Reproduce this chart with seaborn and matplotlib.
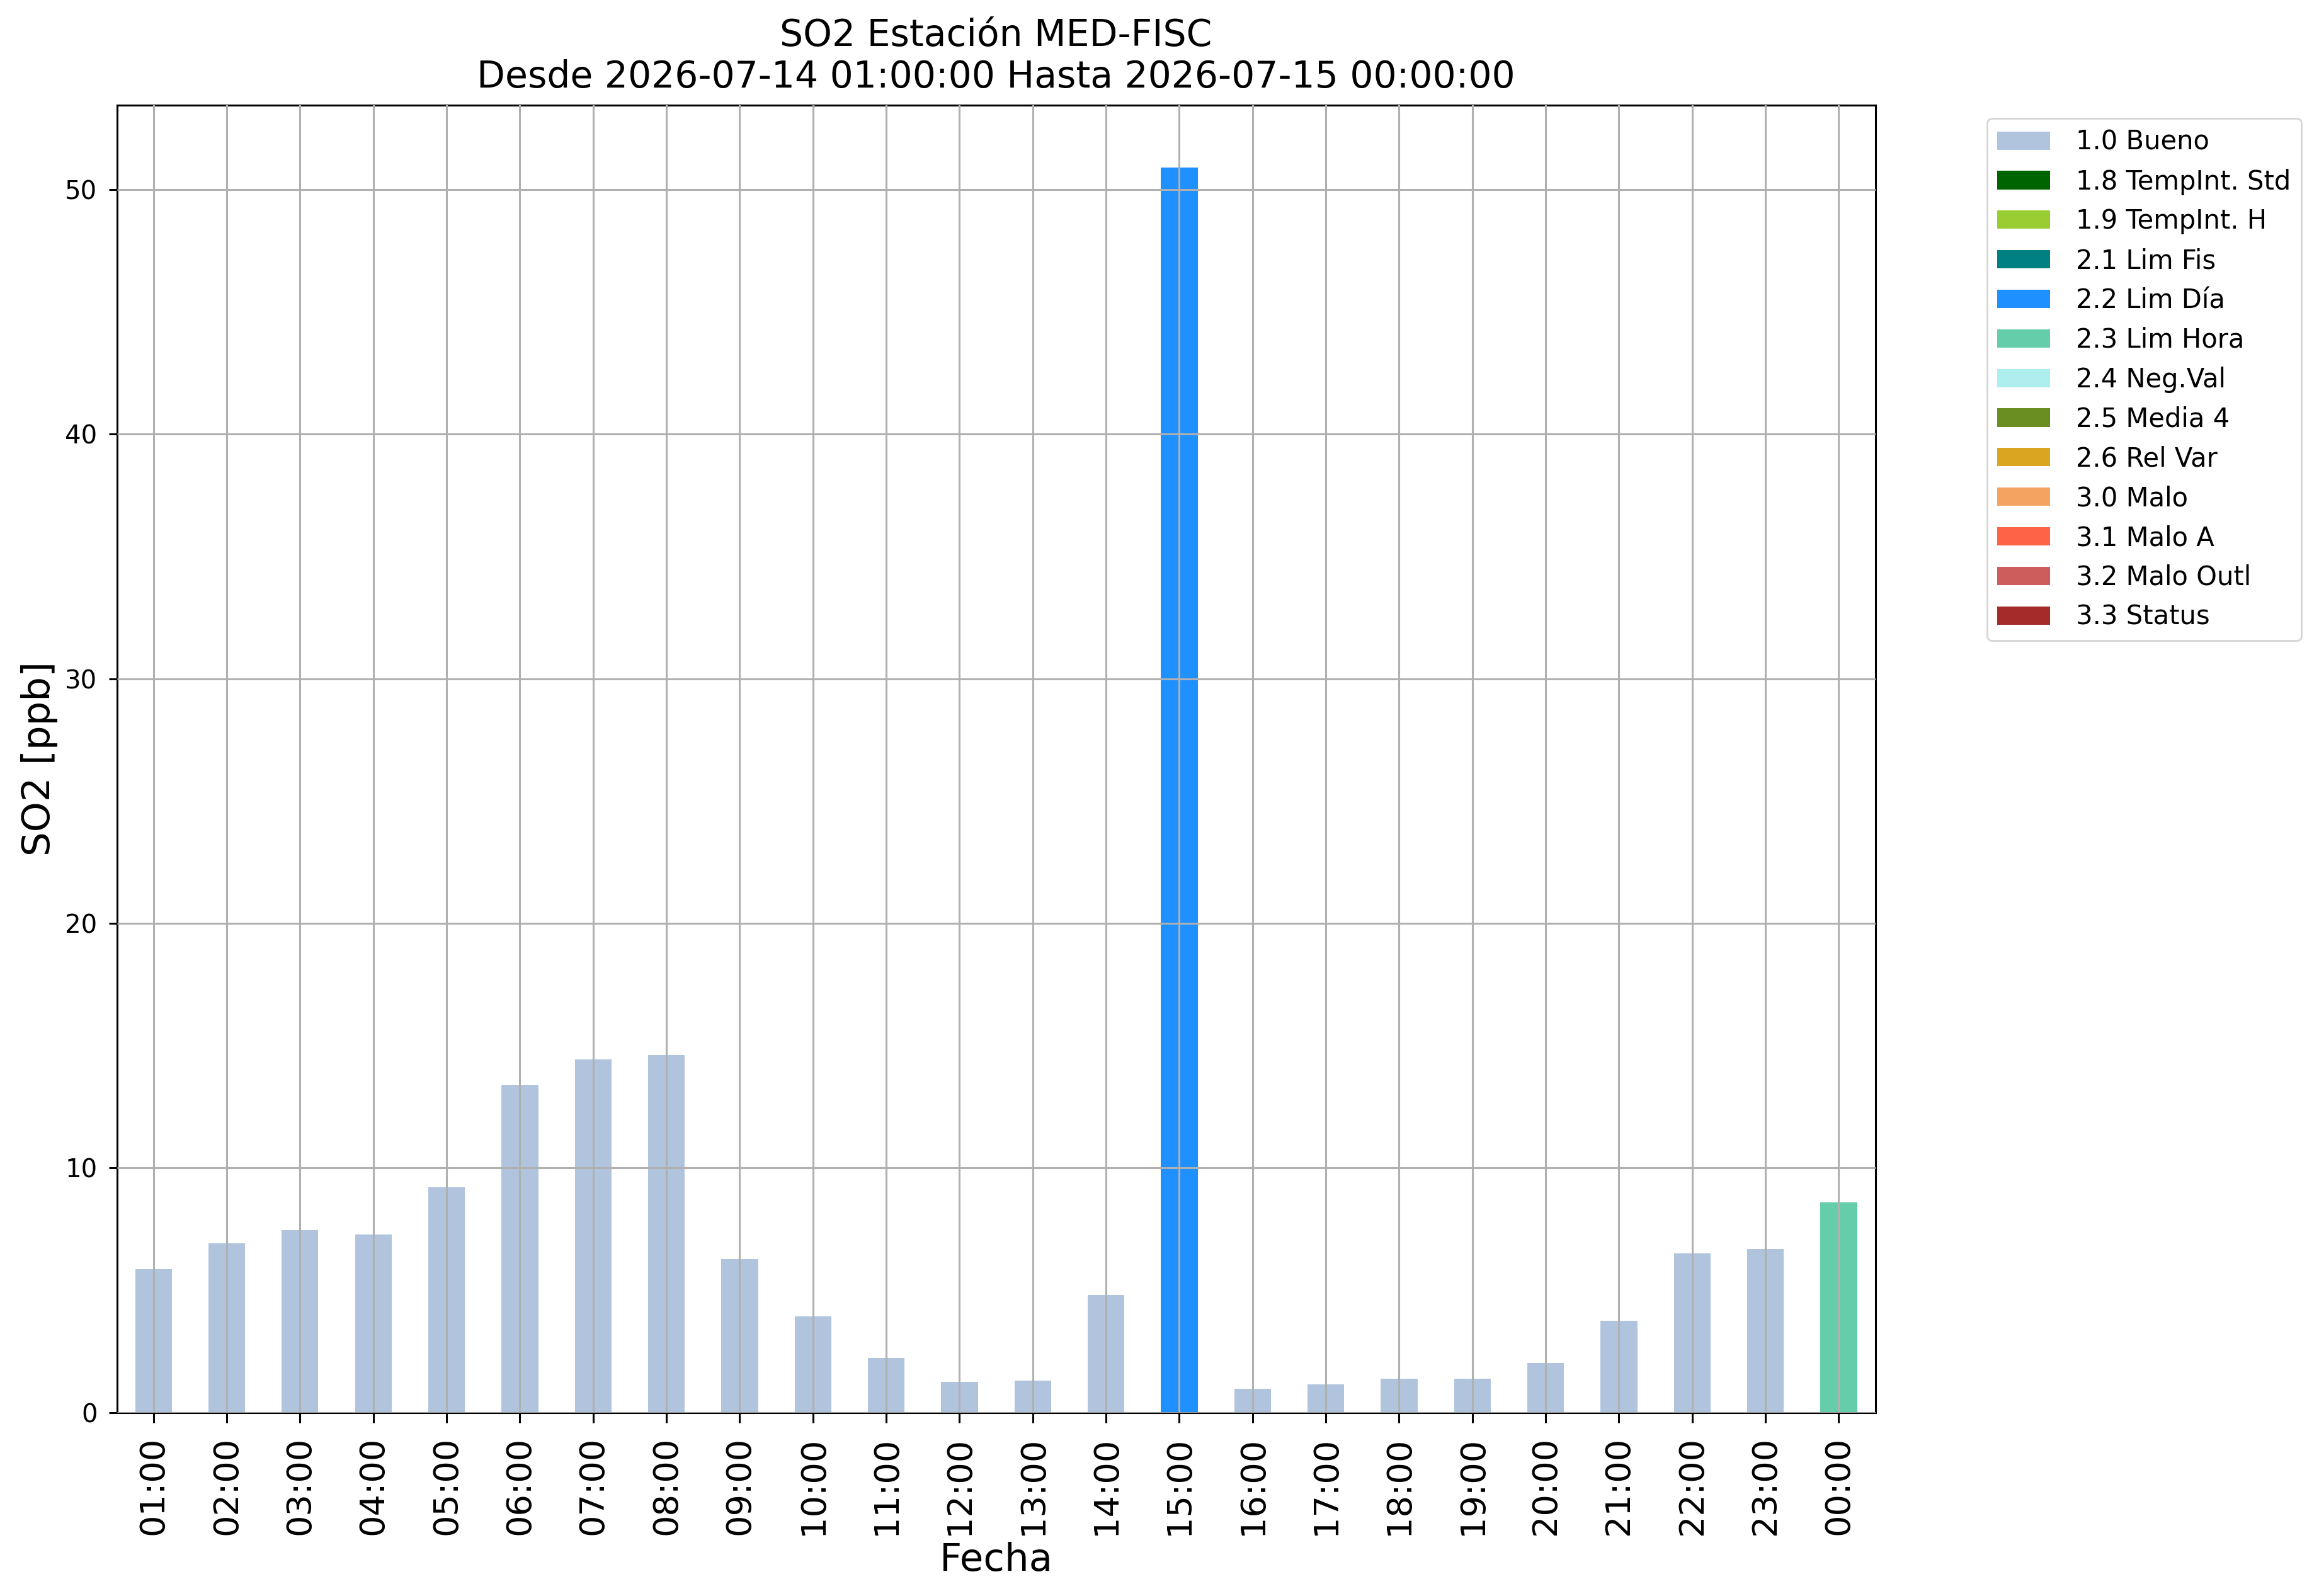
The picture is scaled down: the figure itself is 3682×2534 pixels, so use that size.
import numpy as np
import pandas as pd
import matplotlib
matplotlib.use("Agg")
import matplotlib.pyplot as plt
import seaborn as sns
from matplotlib.patches import Patch

hours = ["01:00", "02:00", "03:00", "04:00", "05:00", "06:00", "07:00", "08:00",
         "09:00", "10:00", "11:00", "12:00", "13:00", "14:00", "15:00", "16:00",
         "17:00", "18:00", "19:00", "20:00", "21:00", "22:00", "23:00", "00:00"]
so2 = [5.86, 6.92, 7.46, 7.27, 9.20, 13.37, 14.44, 14.61, 6.27, 3.92, 2.22, 1.24,
       1.29, 4.81, 50.9, 0.98, 1.15, 1.39, 1.39, 2.03, 3.76, 6.51, 6.69, 8.59]
flags = ["1.0 Bueno"] * 14 + ["2.2 Lim Día"] + ["1.0 Bueno"] * 8 + ["2.3 Lim Hora"]

flag_labels = ["1.0 Bueno", "1.8 TempInt. Std", "1.9 TempInt. H", "2.1 Lim Fis",
               "2.2 Lim Día", "2.3 Lim Hora", "2.4 Neg.Val", "2.5 Media 4",
               "2.6 Rel Var", "3.0 Malo", "3.1 Malo A", "3.2 Malo Outl", "3.3 Status"]
flag_colors = ["lightsteelblue", "darkgreen", "yellowgreen", "teal", "dodgerblue",
               "mediumaquamarine", "paleturquoise", "olivedrab", "goldenrod",
               "sandybrown", "tomato", "indianred", "brown"]

df = pd.DataFrame({"Fecha": hours, "SO2": so2, "flag": flags})
palette = dict(zip(flag_labels, flag_colors))

DPI = 200
fig = plt.figure(figsize=(3682 / DPI, 2534 / DPI), dpi=DPI)
ax = fig.add_axes([0.0504, 0.115, 0.8087 - 0.0504, 0.934 - 0.115])

sns.barplot(data=df, x="Fecha", y="SO2", hue="flag", order=hours,
            hue_order=flag_labels, palette=palette, dodge=False, width=0.5,
            saturation=1, legend=False, ax=ax)

ax.set_axisbelow(False)
ax.grid(True, color="#b0b0b0", linewidth=1.1)
ax.set_xlim(-0.5, len(hours) - 0.5)
ax.set_ylim(0, max(so2) * 1.05)
ax.set_yticks([0, 10, 20, 30, 40, 50])
for s in ax.spines.values():
    s.set_linewidth(1.1)
ax.tick_params(axis="x", labelrotation=90, labelsize=19.5, length=5.8, width=1.1, pad=8)
ax.tick_params(axis="y", labelsize=14.5, length=4.7, width=1.1, pad=6.5)
ax.set_xlabel("Fecha", fontsize=22)
ax.set_ylabel("SO2 [ppb]", fontsize=22)
ax.set_title("SO2 Estación MED-FISC\nDesde 2026-07-14 01:00:00 Hasta 2026-07-15 00:00:00",
             fontsize=21, pad=10)

handles = [Patch(facecolor=c, label=l) for l, c in zip(flag_labels, flag_colors)]
ax.legend(handles=handles, loc="upper left", bbox_to_anchor=(1.056, 1.0),
          fontsize=15, handletextpad=1.0, frameon=True)

fig.savefig("out.png", dpi=DPI)
